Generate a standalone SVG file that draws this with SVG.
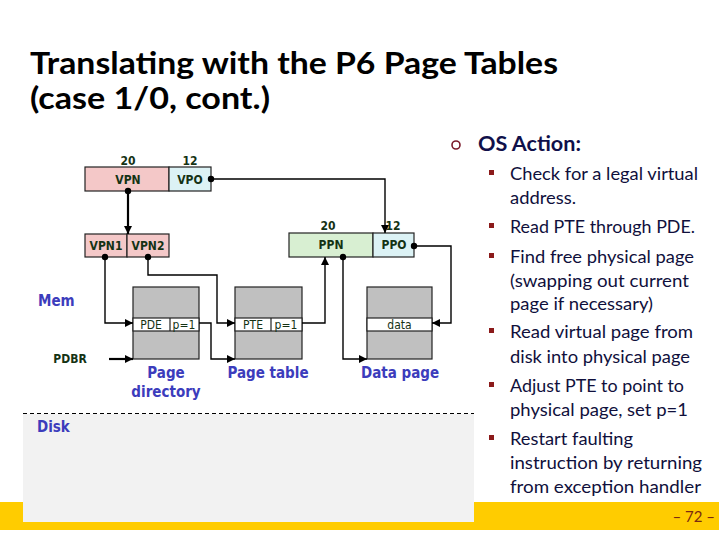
<svg xmlns="http://www.w3.org/2000/svg" width="719" height="539" viewBox="0 0 719 539">
<defs>
<marker id="ah" markerUnits="userSpaceOnUse" markerWidth="10" markerHeight="10" refX="8" refY="4" orient="auto">
<path d="M0,0 L8,4 L0,8 Z" fill="#000"/>
</marker>
<style>
.box{stroke:#222;stroke-width:1.2}
.lbl{font-family:"DejaVu Sans Condensed","DejaVu Sans",sans-serif;font-weight:bold;font-size:12px;fill:#143214;text-anchor:middle}
.row{font-family:"DejaVu Sans Condensed","DejaVu Sans",sans-serif;font-size:12px;fill:#143214;text-anchor:middle}
.blue{font-family:"DejaVu Sans Condensed","DejaVu Sans",sans-serif;font-weight:bold;font-size:15px;fill:#3c3cbc}
.c{fill:none;stroke:#000;stroke-width:1.4}
.t{stroke-width:2.2}
.dot{fill:#000}
.bt{font-family:Lato,"Open Sans",sans-serif;font-size:18px;fill:#10103c}
.sq{fill:#8b1a1a}
</style>
</defs>
<rect x="0" y="0" width="719" height="539" fill="#fff"/>
<rect x="0" y="502" width="719" height="28" fill="#ffcc00"/>
<rect x="23" y="414" width="451" height="108" fill="#f2f2f2"/>
<line x1="23" y1="413.5" x2="474" y2="413.5" stroke="#000" stroke-width="1" stroke-dasharray="4,3"/>

<g id="title">
<text x="30" y="74" font-family="Lato,'Open Sans',sans-serif" font-weight="bold" font-size="30" fill="#000" textLength="528" lengthAdjust="spacingAndGlyphs">Translating with the P6 Page Tables</text>
<text x="30" y="109" font-family="Lato,'Open Sans',sans-serif" font-weight="bold" font-size="30" fill="#000" textLength="240" lengthAdjust="spacingAndGlyphs">(case 1/0, cont.)</text>
</g>

<g id="va">
<rect class="box" x="85" y="167" width="84" height="24" fill="#f4c8c8"/>
<rect class="box" x="169" y="167" width="42" height="24" fill="#dcf2f5"/>
<text class="lbl" x="128" y="165">20</text>
<text class="lbl" x="190" y="165">12</text>
<text class="lbl" x="128" y="184">VPN</text>
<text class="lbl" x="190" y="184">VPO</text>
</g>

<g id="vpn12">
<rect class="box" x="85" y="234" width="42" height="23" fill="#f4c8c8"/>
<rect class="box" x="127" y="234" width="42" height="23" fill="#f4c8c8"/>
<text class="lbl" x="106" y="250">VPN1</text>
<text class="lbl" x="148" y="250">VPN2</text>
</g>

<g id="pa">
<rect class="box" x="289" y="233" width="84" height="24" fill="#d8efd2"/>
<rect class="box" x="373" y="233" width="41" height="24" fill="#dcf2f5"/>
<text class="lbl" x="328" y="230">20</text>
<text class="lbl" x="393" y="230">12</text>
<text class="lbl" x="331" y="249">PPN</text>
<text class="lbl" x="394" y="249">PPO</text>
</g>

<g id="pagedir">
<rect class="box" x="133" y="287" width="66" height="72" fill="#c0c0c0"/>
<rect class="box" x="133" y="318" width="66" height="13" fill="#fff"/>
<line class="box" x1="170" y1="318" x2="170" y2="331"/>
<text class="row" x="151" y="329">PDE</text>
<text class="row" x="184" y="329">p=1</text>
<text class="blue" x="166" y="378" text-anchor="middle">Page</text>
<text class="blue" x="166" y="397" text-anchor="middle">directory</text>
</g>

<g id="pagetable">
<rect class="box" x="235" y="287" width="67" height="72" fill="#c0c0c0"/>
<rect class="box" x="235" y="318" width="67" height="13" fill="#fff"/>
<line class="box" x1="271" y1="318" x2="271" y2="331"/>
<text class="row" x="253" y="329">PTE</text>
<text class="row" x="286" y="329">p=1</text>
<text class="blue" x="268" y="378" text-anchor="middle">Page table</text>
</g>

<g id="datapage">
<rect class="box" x="367" y="287" width="65" height="72" fill="#c0c0c0"/>
<rect class="box" x="367" y="318" width="65" height="13" fill="#fff"/>
<text class="row" x="399.5" y="329">data</text>
<text class="blue" x="400" y="378" text-anchor="middle">Data page</text>
</g>

<g id="labels">
<text class="blue" x="38" y="306" font-size="16">Mem</text>
<text class="lbl" x="70" y="363" text-anchor="start">PDBR</text>
<text class="blue" x="37" y="432">Disk</text>
</g>

<g id="connectors">
<polyline class="c t" points="128,191 128,234" marker-end="url(#ah)"/>
<polyline class="c" points="211,179 385,179 385,233" marker-end="url(#ah)"/>
<polyline class="c" points="105,257 105,323 133,323" marker-end="url(#ah)"/>
<polyline class="c" points="148,257 148,275 217,275 217,323 235,323" marker-end="url(#ah)"/>
<polyline class="c" points="199,323 211,323 211,359 235,359" marker-end="url(#ah)"/>
<polyline class="c t" points="109,359 133,359" marker-end="url(#ah)"/>
<polyline class="c" points="302,323 325,323 325,257" marker-end="url(#ah)"/>
<polyline class="c" points="343,257 343,359 367,359" marker-end="url(#ah)"/>
<polyline class="c" points="414,246 451,246 451,323 432,323" marker-end="url(#ah)"/>
<circle class="dot" cx="128" cy="191" r="3.2"/>
<circle class="dot" cx="211" cy="179" r="3.2"/>
<circle class="dot" cx="105" cy="257" r="3.2"/>
<circle class="dot" cx="148" cy="257" r="3.2"/>
<circle class="dot" cx="343" cy="257" r="3.2"/>
<circle class="dot" cx="414" cy="246" r="3.2"/>
</g>

<g id="osaction">
<circle cx="456" cy="145" r="4" fill="none" stroke="#7a1a2a" stroke-width="1.6"/>
<text x="478" y="151" font-family="Lato,'Open Sans',sans-serif" font-weight="bold" font-size="20" fill="#10104a" textLength="103" lengthAdjust="spacingAndGlyphs">OS Action:</text>
<rect class="sq" x="489" y="170" width="5" height="5"/>
<text class="bt" x="510" y="180" textLength="188" lengthAdjust="spacingAndGlyphs">Check for a legal virtual</text>
<text class="bt" x="510" y="204" textLength="66" lengthAdjust="spacingAndGlyphs">address.</text>
<rect class="sq" x="489" y="223" width="5" height="5"/>
<text class="bt" x="510" y="233" textLength="185" lengthAdjust="spacingAndGlyphs">Read PTE through PDE.</text>
<rect class="sq" x="489" y="253" width="5" height="5"/>
<text class="bt" x="510" y="263" textLength="184" lengthAdjust="spacingAndGlyphs">Find free physical page</text>
<text class="bt" x="510" y="287" textLength="179" lengthAdjust="spacingAndGlyphs">(swapping out current</text>
<text class="bt" x="510" y="310" textLength="143" lengthAdjust="spacingAndGlyphs">page if necessary)</text>
<rect class="sq" x="489" y="328" width="5" height="5"/>
<text class="bt" x="510" y="338" textLength="183" lengthAdjust="spacingAndGlyphs">Read virtual page from</text>
<text class="bt" x="510" y="363" textLength="180" lengthAdjust="spacingAndGlyphs">disk into physical page</text>
<rect class="sq" x="489" y="382" width="5" height="5"/>
<text class="bt" x="510" y="392" textLength="174" lengthAdjust="spacingAndGlyphs">Adjust PTE to point to</text>
<text class="bt" x="510" y="416" textLength="178" lengthAdjust="spacingAndGlyphs">physical page, set p=1</text>
<rect class="sq" x="489" y="435" width="5" height="5"/>
<text class="bt" x="510" y="445" textLength="123" lengthAdjust="spacingAndGlyphs">Restart faulting</text>
<text class="bt" x="510" y="469" textLength="192" lengthAdjust="spacingAndGlyphs">instruction by returning</text>
<text class="bt" x="510" y="493" textLength="191" lengthAdjust="spacingAndGlyphs">from exception handler</text>
</g>

<text x="715" y="522" font-family="Lato,'Open Sans',sans-serif" font-size="15" fill="#7a2a10" text-anchor="end">– 72 –</text>
</svg>
